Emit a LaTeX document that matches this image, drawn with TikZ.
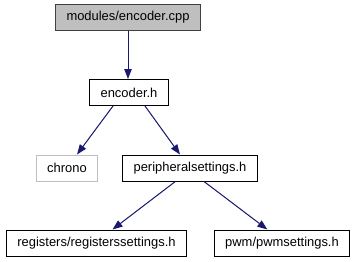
\documentclass[tikz,border=0pt]{standalone}
\usepackage{fontspec}
\setmainfont{Liberation Sans}
\usetikzlibrary{positioning, arrows.meta}

\begin{document}
\begin{tikzpicture}[
		x=0.75pt, y=-0.75pt,
		>={Triangle[length=7.5pt, width=5.6pt]},
		% Style for the header boxes
		file/.style={
			draw=black, line width=0.75pt, fill=white, minimum height=19.5pt,
			inner xsep=8.4pt, inner ysep=0pt,
			font=\fontsize{9.7}{11}\selectfont
		},
		% The file the graph is drawn for
		root/.style={file, fill=black!25, draw=black!75},
		% System headers that are not documented
		extern/.style={file, draw=black!25},
		% Style for the include arrows
		dep/.style={->, line width=0.75pt, draw={rgb,255:red,25;green,25;blue,112},
			fill={rgb,255:red,25;green,25;blue,112}}
		]
		
		\useasboundingbox (0,0) rectangle (357,261);
		
		% ==========================================
		% 1. Top rows: source file and its header
		% ==========================================
		\node[root] (cpp) at (128,17) {modules/encoder.cpp};
		\node[file] (encoderh) at (129,92.5) {encoder.h};
		
		\draw[dep] (cpp.south) -- (encoderh.north -| cpp.south);
		
		% ==========================================
		% 2. Headers pulled in by encoder.h
		% ==========================================
		\node[extern] (chrono) at (67,168) {chrono};
		\node[file] (periph) at (190,168) {peripheralsettings.h};
		
		\draw[dep] ([xshift=-12pt]encoderh.south) -- ([xshift=7.5pt]chrono.north);
		\draw[dep] ([xshift=12pt]encoderh.south) -- ([xshift=-7.5pt]periph.north);
		
		% ==========================================
		% 3. Headers pulled in by peripheralsettings.h
		% ==========================================
		\node[file] (regs) at (96.5,243) {registers/registerssettings.h};
		\node[file] (pwm) at (282,243) {pwm/pwmsettings.h};
		
		\draw[dep] ([xshift=-11pt]periph.south) -- ([xshift=12pt]regs.north);
		\draw[dep] ([xshift=10.5pt]periph.south) -- ([xshift=-11pt]pwm.north);
		
	\end{tikzpicture}
\end{document}
